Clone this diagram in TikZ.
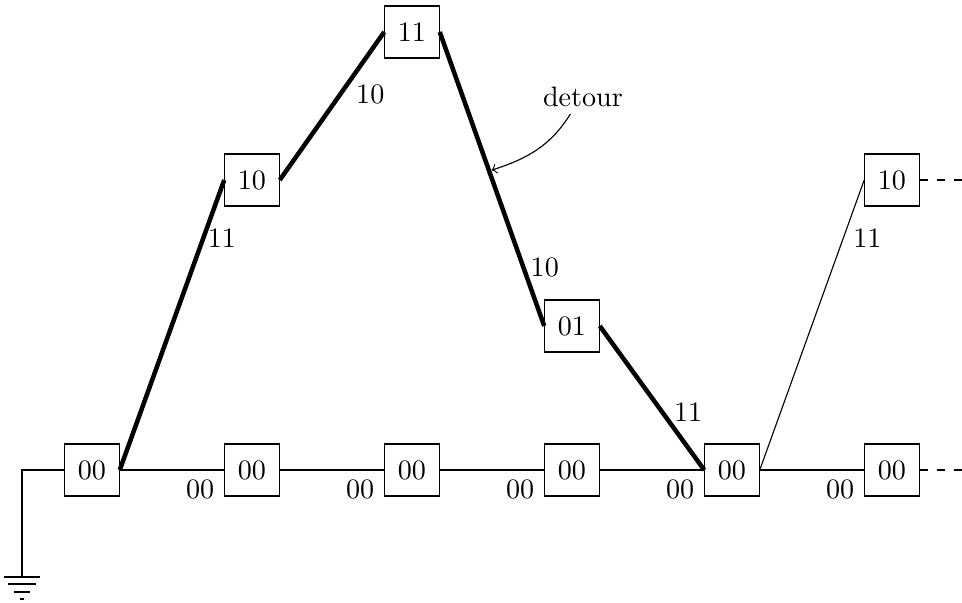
\documentclass[tikz,border=0pt]{standalone}
\usetikzlibrary{calc,positioning}
\tikzset{
    state/.style={
        draw,thin,
        fill=white,
        minimum width=.68cm,minimum height=.65cm
    },
    detour edge/.style={ultra thick},
    ground bar/.style={thin}
}
\begin{document}
\begin{tikzpicture}
\useasboundingbox (-1.15,-1.6625) rectangle (10.875,5.875);
\foreach \i in {0,...,5}
    \node[state] (b\i) at (2*\i,0) {00};
\node[state] (u1) at (2,3.625) {10};
\node[state] (u2) at (4,5.475) {11};
\node[state] (u3) at (6,1.8) {01};
\node[state] (u5) at (10,3.625) {10};
% the straight run along the bottom
\foreach \i/\j in {0/1,1/2,2/3,3/4,4/5}
    \draw (b\i.east) -- (b\j.west) node[below left] {00};
% the way round
\draw[detour edge] (b0.east) -- (u1.west) node[pos=.8,right,xshift=-2.5pt] {11};
\draw[detour edge] (u1.east) -- (u2.west) node[pos=.58,right,xshift=1.5pt] {10};
\draw[detour edge] (u2.east) -- (u3.west) coordinate[pos=.47] (hit) node[pos=.8,right,xshift=-1.5pt] {10};
\draw[detour edge] (u3.east) -- (b4.west) node[pos=.6,right] {11};
\draw (b4.east) -- (u5.west) node[pos=.8,right] {11};
\node (detlabel) at (6.1375,4.6625) {detour};
\draw[->] ([xshift=-4.5pt,yshift=1pt]detlabel.south) to[out=-122,in=18] ([xshift=1pt]hit);
% continues to the right
\coordinate (toptail) at ($(u5.east)+(.55,0)$);
\coordinate (bottail) at ($(b5.east)+(.55,0)$);
\draw[dashed] (u5.east) -- (toptail);
\draw[dashed] (b5.east) -- (bottail);
% ground
\coordinate (gnd) at (-.875,-1.3375);
\draw (b0.west) -| (gnd);
\foreach \y/\w in {0/.23,.0875/.17,.1875/.1,.275/.03}
    \draw[ground bar] ($(gnd)+(-\w,-\y)$) -- ($(gnd)+(\w,-\y)$);
\end{tikzpicture}
\end{document}
